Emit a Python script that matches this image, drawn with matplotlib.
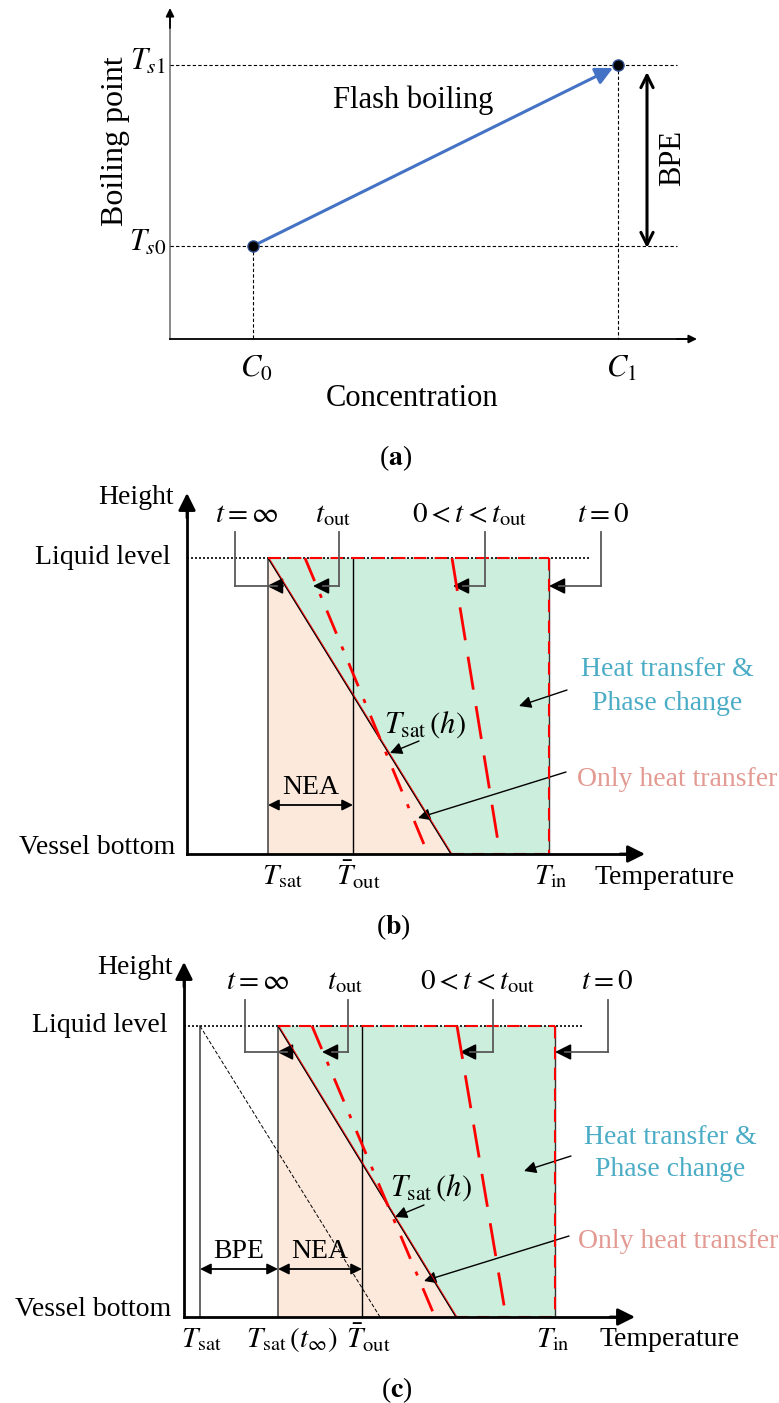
import matplotlib
matplotlib.use("Agg")
import matplotlib.pyplot as plt

plt.rcParams['font.family'] = ['Liberation Serif', 'DejaVu Serif']
plt.rcParams['mathtext.fontset'] = 'stix'

# ---------------- schematic values (pixel-space diagram units) ----------------
# Panel (a): concentration / boiling point schematic
a_origin = (170, 339)
a_axis_tips = (697, 8)           # x-axis tip x, y-axis tip y
a_conc = [253, 618]              # C0, C1
a_boil = [246, 65]               # Ts0, Ts1
a_dash_end = 677
a_bpe_x = 647
a_conc_labels = [r'$C_0$', r'$C_1$']
a_boil_labels = [r'$T_{s0}$', r'$T_{s1}$']

# Panel (b)
b_axes = dict(x0=187, y0=854, ytip=493, xtip=645)
b_level = 558
b_xs = dict(tsat=268, tout=353, tin=549, tsath_bot=451,
            dd_top=305, dd_bot=428, da_top=452, da_bot=500, dot_end=589)
b_leader_x = [235, 339, 485, 601]
b_leader_tip = [267, 313, 453, 549]
b_leader_y = [532, 586]
b_top_labels = [r'$t=\infty$', r'$t_{\mathrm{out}}$', r'$0<t<t_{\mathrm{out}}$', r'$t=0$']
b_top_label_x = [247, 333, 470, 603]
b_top_label_y = 515

# Panel (c)
c_axes = dict(x0=184, y0=1317, ytip=962, xtip=635)
c_level = 1026
c_xs = dict(tsat0=200, tsat=278, tout=362, tin=555, tsath_bot=456,
            thin_bot=380, dd_top=312, dd_bot=435, da_top=457, da_bot=506, dot_end=583)
c_leader_x = [245, 348, 493, 608]
c_leader_tip = [277, 322, 460, 555]
c_leader_y = [1000, 1052]
c_top_label_x = [258, 345, 478, 607]
c_top_label_y = 982

GREEN = '#CCEEDC'
ORANGE = '#FCE9DC'
BLUE_TXT = '#4BACC6'
PINK_TXT = '#E39A92'
RED = '#FF0000'
GREY = '#595959'

fig = plt.figure(figsize=(7.79, 14.03), dpi=100)
ax = fig.add_axes([0, 0, 1, 1])
ax.set_xlim(0, 779)
ax.set_ylim(1403, 0)
ax.axis('off')


def arrow(x0, y0, x1, y1, lw=1.0, ms=14, color='black', style='-|>'):
    ax.annotate('', xy=(x1, y1), xytext=(x0, y0),
                arrowprops=dict(arrowstyle=style, lw=lw, color=color,
                                mutation_scale=ms, shrinkA=0, shrinkB=0))


# ---------------- Panel (a) ----------------
ox, oy = a_origin
ax.plot([ox, ox], [oy, a_axis_tips[1] + 8], color='#808080', lw=1.3)
arrow(ox, a_axis_tips[1] + 20, ox, a_axis_tips[1], lw=1.3, ms=12)
ax.plot([ox, a_axis_tips[0] - 8], [oy, oy], color='black', lw=1.3)
arrow(a_axis_tips[0] - 20, oy, a_axis_tips[0], oy, lw=1.3, ms=12)
for yb in a_boil:
    ax.plot([ox, a_dash_end], [yb, yb], color='black', lw=0.8, ls=(0, (3, 2)))
for xc, yb in zip(a_conc, a_boil):
    ax.plot([xc, xc], [yb, oy], color='black', lw=0.8, ls=(0, (3, 2)))
ax.annotate('', xy=(a_conc[1] - 5, a_boil[1] + 3), xytext=(a_conc[0], a_boil[0]),
            arrowprops=dict(arrowstyle='-|>', lw=2.2, color='#4472C4',
                            mutation_scale=26, shrinkA=0, shrinkB=0))
ax.plot(a_conc, a_boil, 'o', color='black', ms=8, mec='#2F4F8F', mew=1, zorder=5)
arrow(a_bpe_x, a_boil[1] + 7, a_bpe_x, a_boil[0] + 2, lw=2.2, ms=22, style='<->')
ax.text(673, 158, 'BPE', rotation=90, ha='center', va='center', fontsize=22)
ax.text(413, 100, 'Flash boiling', ha='center', va='center', fontsize=22)
ax.text(115, 141, 'Boiling point', rotation=90, ha='center', va='center', fontsize=23)
for lab, yb in zip(a_boil_labels, a_boil):
    ax.text(166, yb - 3, lab, ha='right', va='center', fontsize=22)
for lab, xc in zip(a_conc_labels, a_conc):
    ax.text(xc + 3, 369, lab, ha='center', va='center', fontsize=22)
ax.text(412, 398, 'Concentration', ha='center', va='center', fontsize=22)
ax.text(396, 458, r'($\mathbf{a}$)', ha='center', va='center', fontsize=20)


# ---------------- Panels (b) and (c) ----------------
def panel(axes, level, xs, lead_x, lead_tip, lead_y, lab_x, lab_y, bpe):
    x0, y0, ytip, xtip = axes['x0'], axes['y0'], axes['ytip'], axes['xtip']
    tsat, tout, tin, tb = xs['tsat'], xs['tout'], xs['tin'], xs['tsath_bot']
    # fills
    ax.fill([tsat, tb, tsat], [level, y0, y0], color=ORANGE, lw=0, zorder=1)
    ax.fill([tsat, tin, tin, tb], [level, level, y0, y0], color=GREEN, lw=0, zorder=1)
    # liquid level dotted
    ax.plot([x0, xs['dot_end']], [level, level], color='black', lw=1.2, ls=(0, (1.2, 1.2)), zorder=2)
    # verticals
    ax.plot([tsat, tsat], [level, y0], color=GREY, lw=1.3, zorder=3)
    ax.plot([tout, tout], [level, y0], color='black', lw=1.0, zorder=3)
    ax.plot([tin, tin], [level, y0], color='#333333', lw=1.0, zorder=3)
    if bpe:
        t0 = xs['tsat0']
        ax.plot([t0, t0], [level, y0], color=GREY, lw=1.3, zorder=3)
        ax.plot([t0, xs['thin_bot']], [level, y0], color='black', lw=0.7, ls=(0, (4, 2)), zorder=3)
    # Tsat(h)
    ax.plot([tsat, tb], [level, y0], color='black', lw=1.0, zorder=4)
    ax.plot([tsat + 1, tb + 1], [level, y0], color=RED, lw=0.6, zorder=4)
    # red lines
    ax.plot([tsat, tin], [level, level], color=RED, lw=1.5, ls=(0, (6, 4)), zorder=4)
    ax.plot([tb, tin], [y0, y0], color=RED, lw=1.5, ls=(0, (6, 4)), zorder=4)
    ax.plot([tin, tin], [level, y0], color=RED, lw=1.5, ls=(0, (6, 4)), zorder=4)
    ax.plot([xs['dd_top'], xs['dd_bot']], [level, y0], color=RED, lw=2.0,
            ls=(0, (9, 5, 1.5, 5)), zorder=4)
    ax.plot([xs['da_top'], xs['da_bot']], [level, y0], color=RED, lw=2.0,
            ls=(0, (12, 6)), zorder=4)
    # axes
    ax.plot([x0, x0], [y0, ytip + 15], color='black', lw=2.0, zorder=5)
    arrow(x0, ytip + 25, x0, ytip, lw=2.0, ms=26)
    ax.plot([x0, xtip - 15], [y0, y0], color='black', lw=2.0, zorder=5)
    arrow(xtip - 25, y0, xtip, y0, lw=2.0, ms=26)
    # leaders
    for lx, tip, lab, tx in zip(lead_x, lead_tip, b_top_labels, lab_x):
        ax.plot([lx, lx], [lead_y[0], lead_y[1]], color=GREY, lw=1.3, zorder=5)
        ax.plot([lx, tip + 10], [lead_y[1], lead_y[1]], color=GREY, lw=1.3, zorder=5)
        arrow(tip + 16, lead_y[1], tip, lead_y[1], lw=1.3, ms=24)
        ax.text(tx, lab_y, lab, ha='center', va='center', fontsize=21, zorder=6)


panel(b_axes, b_level, b_xs, b_leader_x, b_leader_tip, b_leader_y,
      b_top_label_x, b_top_label_y, False)
panel(c_axes, c_level, c_xs, c_leader_x, c_leader_tip, c_leader_y,
      c_top_label_x, c_top_label_y, True)

# Panel (b) labels
ax.text(136, 498, 'Height', ha='center', va='center', fontsize=20)
ax.text(171, 558, 'Liquid level', ha='right', va='center', fontsize=20)
ax.text(175, 847, 'Vessel bottom', ha='right', va='center', fontsize=20)
ax.text(595, 877, 'Temperature', ha='left', va='center', fontsize=20)
ax.text(282, 877, r'$T_{\mathrm{sat}}$', ha='center', va='center', fontsize=21)
ax.text(358, 875, r'$\bar{T}_{\mathrm{out}}$', ha='center', va='center', fontsize=21)
ax.text(551, 877, r'$T_{\mathrm{in}}$', ha='center', va='center', fontsize=21)
arrow(268, 805, 353, 805, lw=1.3, ms=16, style='<|-|>')
ax.text(311, 788, 'NEA', ha='center', va='center', fontsize=20)
ax.text(425, 725, r'$T_{\mathrm{sat}}\,(h)$', ha='center', va='center', fontsize=22)
arrow(419, 741, 390, 753, lw=1.0, ms=18)
ax.text(667, 670, 'Heat transfer &', ha='center', va='center', fontsize=20, color=BLUE_TXT)
ax.text(667, 703, 'Phase change', ha='center', va='center', fontsize=20, color=BLUE_TXT)
arrow(567, 690, 519, 706, lw=1.0, ms=18)
ax.text(677, 779, 'Only heat transfer', ha='center', va='center', fontsize=20, color=PINK_TXT)
arrow(566, 772, 418, 818, lw=1.0, ms=18)
ax.text(393, 927, r'($\mathbf{b}$)', ha='center', va='center', fontsize=20)

# Panel (c) labels
ax.text(135, 967, 'Height', ha='center', va='center', fontsize=20)
ax.text(168, 1026, 'Liquid level', ha='right', va='center', fontsize=20)
ax.text(171, 1310, 'Vessel bottom', ha='right', va='center', fontsize=20)
ax.text(600, 1340, 'Temperature', ha='left', va='center', fontsize=20)
ax.text(201, 1340, r'$T_{\mathrm{sat}}$', ha='center', va='center', fontsize=21)
ax.text(292, 1340, r'$T_{\mathrm{sat}}\,(t_{\infty})$', ha='center', va='center', fontsize=21)
ax.text(368, 1338, r'$\bar{T}_{\mathrm{out}}$', ha='center', va='center', fontsize=21)
ax.text(553, 1340, r'$T_{\mathrm{in}}$', ha='center', va='center', fontsize=21)
arrow(200, 1269, 278, 1269, lw=1.3, ms=16, style='<|-|>')
arrow(278, 1269, 362, 1269, lw=1.3, ms=16, style='<|-|>')
ax.text(239, 1252, 'BPE', ha='center', va='center', fontsize=20)
ax.text(320, 1252, 'NEA', ha='center', va='center', fontsize=20)
ax.text(431, 1188, r'$T_{\mathrm{sat}}\,(h)$', ha='center', va='center', fontsize=22)
arrow(424, 1205, 395, 1217, lw=1.0, ms=18)
ax.text(670, 1137, 'Heat transfer &', ha='center', va='center', fontsize=20, color=BLUE_TXT)
ax.text(670, 1170, 'Phase change', ha='center', va='center', fontsize=20, color=BLUE_TXT)
arrow(571, 1156, 524, 1171, lw=1.0, ms=18)
ax.text(678, 1242, 'Only heat transfer', ha='center', va='center', fontsize=20, color=PINK_TXT)
arrow(569, 1236, 424, 1281, lw=1.0, ms=18)
ax.text(397, 1390, r'($\mathbf{c}$)', ha='center', va='center', fontsize=20)

fig.savefig('out.png', dpi=100)
